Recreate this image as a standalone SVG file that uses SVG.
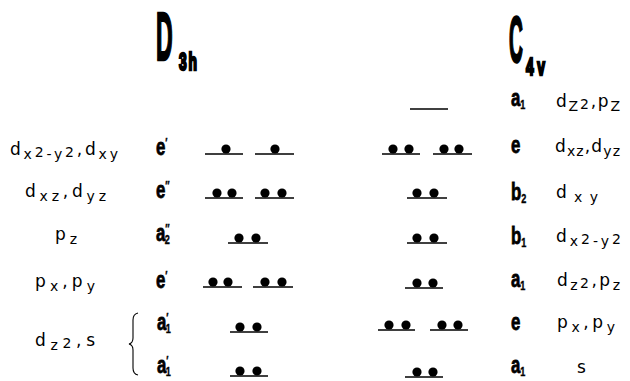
<svg xmlns="http://www.w3.org/2000/svg" width="630" height="381" viewBox="0 0 630 381">
<style>
.o{font-family:"DejaVu Sans","Liberation Sans",Arial,sans-serif;font-size:17px;fill:#000}
.s{font-size:14px}
.b{font-family:"Liberation Sans",Arial,sans-serif;font-weight:bold;font-size:24px;fill:#000;stroke:#000;stroke-width:0.8}
.bs{font-size:13px;stroke-width:0.4}
.lv{stroke:#000;stroke-width:1.6;fill:none}
.el{fill:#000}
.ttl{font-family:"Liberation Sans",Arial,sans-serif;font-weight:bold;fill:#000;stroke:#000;stroke-width:2.5}
.br{stroke:#000;stroke-width:1.1;fill:none}
</style>
<defs>
<circle id="dot" class="el" r="4.6"/>
</defs>
<rect width="630" height="381" fill="#fff"/>

<g id="title-D3h">
<text class="ttl" transform="translate(156,60) scale(0.34,1)" font-size="68">D</text>
<text class="ttl" transform="translate(179,70) scale(0.6,1)" font-size="23" letter-spacing="3" stroke-width="1.2">3h</text>
</g>
<g id="title-C4v">
<text class="ttl" transform="translate(509,62) scale(0.3,1)" font-size="64">C</text>
<text class="ttl" transform="translate(526,75) scale(0.6,1)" font-size="23" letter-spacing="6" stroke-width="1.2">4v</text>
</g>

<g id="d3h-orbitals">
<text class="o" x="10" y="155" textLength="108" lengthAdjust="spacing">d<tspan class="s" dy="4">x</tspan><tspan class="s" dy="-2">2</tspan><tspan class="s" dy="2">-y</tspan><tspan class="s" dy="-2">2</tspan><tspan dy="-2">,d</tspan><tspan class="s" dy="4">xy</tspan></text>
<text class="o" x="25" y="197" textLength="81" lengthAdjust="spacing">d<tspan class="s" dy="4">xz</tspan><tspan dy="-4">,d</tspan><tspan class="s" dy="4">yz</tspan></text>
<text class="o" x="55" y="240" textLength="22" lengthAdjust="spacing">p<tspan class="s" dy="4">z</tspan></text>
<text class="o" x="35" y="287" textLength="60" lengthAdjust="spacing">p<tspan class="s" dy="4">x</tspan><tspan dy="-4">,p</tspan><tspan class="s" dy="4">y</tspan></text>
<text class="o" x="35" y="346" textLength="60" lengthAdjust="spacing">d<tspan class="s" dy="4">z</tspan><tspan class="s" dy="-2">2</tspan><tspan dy="-2">,s</tspan></text>
<path class="br" d="M138,313 Q133,314 133,320 L133,338 Q133,343 129,344 Q133,345 133,350 L133,368 Q133,374 138,375"/>
</g>

<g id="d3h-symmetry">
<text class="b" transform="translate(156,155) scale(0.7,1)">e<tspan class="bs" dy="-8">′</tspan></text>
<text class="b" transform="translate(156,198) scale(0.7,1)">e<tspan class="bs" dy="-8">″</tspan></text>
<text class="b" transform="translate(156,241) scale(0.7,1)">a<tspan class="bs" dy="-8">″</tspan><tspan class="bs" dx="-7" dy="11">2</tspan></text>
<text class="b" transform="translate(156,288) scale(0.7,1)">e<tspan class="bs" dy="-8">′</tspan></text>
<text class="b" transform="translate(157,330) scale(0.7,1)">a<tspan class="bs" dy="-8">′</tspan><tspan class="bs" dx="-4" dy="11">1</tspan></text>
<text class="b" transform="translate(157,373) scale(0.7,1)">a<tspan class="bs" dy="-8">′</tspan><tspan class="bs" dx="-4" dy="11">1</tspan></text>
</g>

<g id="d3h-levels">
<g id="d3h-e1">
<path class="lv" d="M205,154H243M255,154H294"/>
<use href="#dot" x="226" y="149"/><use href="#dot" x="275" y="149"/>
</g>
<g id="d3h-e2">
<path class="lv" d="M205,198H243M255,198H294"/>
<use href="#dot" x="217" y="193"/><use href="#dot" x="232" y="193"/><use href="#dot" x="265" y="193"/><use href="#dot" x="282" y="193"/>
</g>
<g id="d3h-a2">
<path class="lv" d="M228,243H268"/>
<use href="#dot" x="239" y="238"/><use href="#dot" x="256" y="238"/>
</g>
<g id="d3h-e1b">
<path class="lv" d="M203,287H242M253,287H293"/>
<use href="#dot" x="213" y="282"/><use href="#dot" x="228" y="282"/><use href="#dot" x="265" y="282"/><use href="#dot" x="282" y="282"/>
</g>
<g id="d3h-a1a">
<path class="lv" d="M230,332H268"/>
<use href="#dot" x="240" y="327"/><use href="#dot" x="257" y="327"/>
</g>
<g id="d3h-a1b">
<path class="lv" d="M230,376H268"/>
<use href="#dot" x="240" y="371"/><use href="#dot" x="257" y="371"/>
</g>
</g>

<g id="c4v-levels">
<g id="c4v-a1top"><path class="lv" d="M410,109H448"/></g>
<g id="c4v-e1">
<path class="lv" d="M382,154H420M433,154H472"/>
<use href="#dot" x="393" y="149"/><use href="#dot" x="409" y="149"/><use href="#dot" x="444" y="149"/><use href="#dot" x="459" y="149"/>
</g>
<g id="c4v-b2">
<path class="lv" d="M407,198H447"/>
<use href="#dot" x="417" y="193"/><use href="#dot" x="434" y="193"/>
</g>
<g id="c4v-b1">
<path class="lv" d="M407,243H447"/>
<use href="#dot" x="417" y="238"/><use href="#dot" x="434" y="238"/>
</g>
<g id="c4v-a1mid">
<path class="lv" d="M405,288H443"/>
<use href="#dot" x="417" y="283"/><use href="#dot" x="433" y="283"/>
</g>
<g id="c4v-e2">
<path class="lv" d="M378,330H415M430,330H468"/>
<use href="#dot" x="389" y="325"/><use href="#dot" x="406" y="325"/><use href="#dot" x="442" y="325"/><use href="#dot" x="458" y="325"/>
</g>
<g id="c4v-a1low">
<path class="lv" d="M405,377H443"/>
<use href="#dot" x="417" y="372"/><use href="#dot" x="433" y="372"/>
</g>
</g>

<g id="c4v-symmetry">
<text class="b" transform="translate(511,106) scale(0.7,1)">a<tspan class="bs" dy="3">1</tspan></text>
<text class="b" transform="translate(511,153) scale(0.7,1)">e</text>
<text class="b" transform="translate(511,200) scale(0.7,1)">b<tspan class="bs" dy="3">2</tspan></text>
<text class="b" transform="translate(511,244) scale(0.7,1)">b<tspan class="bs" dy="3">1</tspan></text>
<text class="b" transform="translate(511,287) scale(0.7,1)">a<tspan class="bs" dy="3">1</tspan></text>
<text class="b" transform="translate(511,330) scale(0.7,1)">e</text>
<text class="b" transform="translate(511,373) scale(0.7,1)">a<tspan class="bs" dy="3">1</tspan></text>
</g>

<g id="c4v-orbitals">
<text class="o" x="556" y="107" textLength="64" lengthAdjust="spacing">d<tspan class="s" dy="4">Z</tspan><tspan class="s" dy="-2">2</tspan><tspan dy="-2">,p</tspan><tspan class="s" dy="4">Z</tspan></text>
<text class="o" x="555" y="152" textLength="65" lengthAdjust="spacing">d<tspan class="s" dy="4">xz</tspan><tspan dy="-4">,d</tspan><tspan class="s" dy="4">yz</tspan></text>
<text class="o" x="556" y="198" textLength="42" lengthAdjust="spacing">d<tspan class="s" dy="4">xy</tspan></text>
<text class="o" x="556" y="242" textLength="65" lengthAdjust="spacing">d<tspan class="s" dy="4">x</tspan><tspan class="s" dy="-2">2</tspan><tspan class="s" dy="2">-y</tspan><tspan class="s" dy="-2">2</tspan></text>
<text class="o" x="557" y="286" textLength="63" lengthAdjust="spacing">d<tspan class="s" dy="4">z</tspan><tspan class="s" dy="-2">2</tspan><tspan dy="-2">,p</tspan><tspan class="s" dy="4">z</tspan></text>
<text class="o" x="557" y="328" textLength="58" lengthAdjust="spacing">p<tspan class="s" dy="4">x</tspan><tspan dy="-4">,p</tspan><tspan class="s" dy="4">y</tspan></text>
<text class="o" x="577" y="373">s</text>
</g>
</svg>
